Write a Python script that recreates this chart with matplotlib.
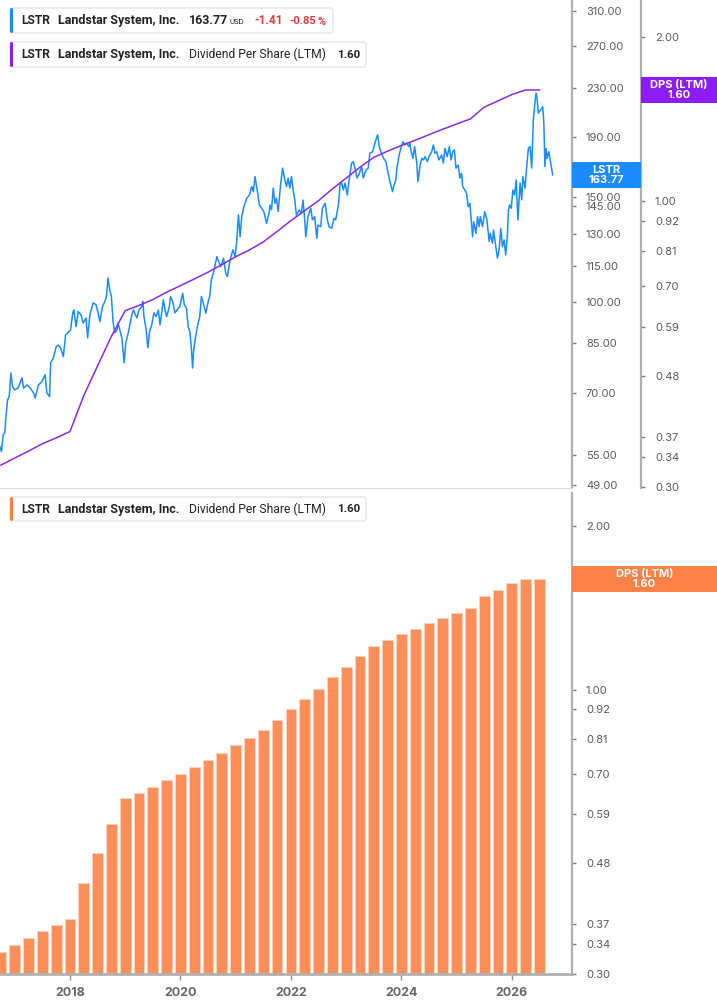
import matplotlib
matplotlib.use('Agg')
import matplotlib.pyplot as plt
import numpy as np
from matplotlib.patches import FancyBboxPatch, Rectangle
from matplotlib.transforms import IdentityTransform
from matplotlib.ticker import FixedLocator, FixedFormatter, NullLocator

# quarterly dividend per share (LTM)
dps_quarters = np.arange(2016.75, 2026.51, 0.25)
dps_ltm = [0.329, 0.339, 0.349, 0.360, 0.369, 0.379, 0.441, 0.500, 0.566, 0.631,
           0.645, 0.661, 0.682, 0.701, 0.721, 0.742, 0.766, 0.792, 0.815, 0.843,
           0.881, 0.922, 0.962, 1.003, 1.054, 1.103, 1.155, 1.204, 1.236, 1.266,
           1.294, 1.325, 1.356, 1.386, 1.416, 1.488, 1.528, 1.569, 1.60, 1.60]

# LSTR close price
price_years = [
    2016.73, 2016.76, 2016.79, 2016.82, 2016.84, 2016.87, 2016.90, 2016.93, 2016.96, 2017.00,
    2017.06, 2017.13, 2017.16, 2017.22, 2017.28, 2017.34, 2017.37, 2017.43, 2017.49, 2017.55,
    2017.58, 2017.63, 2017.65, 2017.70, 2017.75, 2017.79, 2017.83, 2017.88, 2017.92, 2017.98,
    2018.01, 2018.05, 2018.07, 2018.11, 2018.15, 2018.20, 2018.24, 2018.29, 2018.32, 2018.36,
    2018.42, 2018.47, 2018.51, 2018.54, 2018.59, 2018.63, 2018.66, 2018.69, 2018.72, 2018.75,
    2018.78, 2018.81, 2018.85, 2018.87, 2018.94, 2018.98, 2019.01, 2019.06, 2019.12, 2019.15,
    2019.21, 2019.25,
    2019.30, 2019.32, 2019.34, 2019.38, 2019.41, 2019.44, 2019.48, 2019.52, 2019.56, 2019.60,
    2019.63, 2019.66, 2019.69, 2019.72, 2019.75, 2019.80, 2019.82, 2019.86, 2019.90, 2019.94,
    2019.99, 2020.04, 2020.07, 2020.11, 2020.14, 2020.17, 2020.20, 2020.22, 2020.24, 2020.28,
    2020.32, 2020.35, 2020.38, 2020.43, 2020.46, 2020.50, 2020.53, 2020.56, 2020.61, 2020.66,
    2020.68, 2020.73, 2020.78, 2020.82, 2020.85, 2020.90, 2020.95, 2020.99, 2021.02, 2021.05,
    2021.08, 2021.11, 2021.15, 2021.20, 2021.25, 2021.29, 2021.32, 2021.35, 2021.39, 2021.43,
    2021.47, 2021.51, 2021.56, 2021.61,
    2021.62, 2021.65, 2021.68, 2021.71, 2021.74, 2021.77, 2021.81, 2021.85, 2021.89, 2021.92,
    2021.95, 2021.98, 2022.01, 2022.04, 2022.07, 2022.10, 2022.15, 2022.19, 2022.22, 2022.25,
    2022.27, 2022.31, 2022.36, 2022.39, 2022.43, 2022.47, 2022.49, 2022.54, 2022.57, 2022.62,
    2022.66, 2022.69, 2022.74, 2022.78, 2022.81, 2022.86, 2022.89, 2022.92, 2022.95, 2022.98,
    2023.02, 2023.06, 2023.10, 2023.13, 2023.16, 2023.20, 2023.24, 2023.28, 2023.31, 2023.36,
    2023.40, 2023.43, 2023.48, 2023.52, 2023.55, 2023.57, 2023.60, 2023.64, 2023.68, 2023.72,
    2023.76, 2023.80, 2023.84, 2023.86, 2023.90, 2023.92, 2023.96, 2024.00, 2024.03, 2024.06,
    2024.09, 2024.14,
    2024.15, 2024.18, 2024.21, 2024.24, 2024.28, 2024.30, 2024.34, 2024.37, 2024.40, 2024.43,
    2024.47, 2024.50, 2024.55, 2024.58, 2024.61, 2024.64, 2024.68, 2024.73, 2024.76, 2024.79,
    2024.83, 2024.87, 2024.90, 2024.93, 2024.96, 2024.99, 2025.03, 2025.06, 2025.09, 2025.11,
    2025.15, 2025.18, 2025.21, 2025.24, 2025.27, 2025.29, 2025.31, 2025.35, 2025.38, 2025.41,
    2025.43, 2025.47, 2025.51, 2025.55, 2025.59, 2025.61, 2025.65, 2025.67, 2025.71, 2025.74,
    2025.77, 2025.80, 2025.83, 2025.86, 2025.89, 2025.92, 2025.94, 2025.96, 2025.99, 2026.02,
    2026.05, 2026.08, 2026.11, 2026.15, 2026.18, 2026.20, 2026.24, 2026.27, 2026.30, 2026.33,
    2026.36, 2026.39, 2026.42, 2026.44, 2026.46, 2026.48, 2026.52, 2026.56, 2026.58, 2026.60,
    2026.62, 2026.64, 2026.67, 2026.70, 2026.74]
price_close = [
    56.9, 55.8, 59.6, 60.0, 63.8, 68.2, 69.1, 75.7, 71.8, 70.9,
    71.4, 74.3, 71.4, 72.3, 71.4, 70.1, 68.7, 72.3, 73.2, 75.2,
    70.1, 69.1, 78.8, 80.3, 83.9, 84.4, 83.5, 80.7, 87.8, 88.9,
    89.5, 95.7, 96.8, 90.7, 96.2, 94.9, 92.0, 93.8, 86.8, 94.9,
    99.5, 98.8, 95.7, 92.5, 98.1, 100.0, 102.0, 109.6, 104.7, 102.0,
    92.5, 88.5, 89.5, 92.0, 86.8, 78.8, 85.1, 88.9, 94.9, 96.8,
    93.8, 96.8,
    98.1, 100.0, 94.3, 89.5, 83.5, 88.9, 91.3, 95.7, 94.3, 96.8,
    91.3, 95.7, 100.7, 96.8, 94.3, 98.1, 102.0, 100.0, 95.7, 96.8,
    98.1, 103.3, 98.8, 97.5, 90.7, 88.9, 82.9, 77.2, 82.9, 87.8,
    92.0, 94.3, 102.0, 98.1, 95.6, 99.8, 102.0, 108.8, 113.1, 119.1,
    117.6, 114.6, 118.4, 111.7, 110.2, 117.6, 122.3, 119.1, 127.1, 140.1,
    128.7, 139.2, 144.7, 149.5, 151.4, 156.5, 153.4, 162.7, 154.4, 145.6,
    143.8, 141.9, 135.6, 141.9,
    145.6, 142.9, 155.5, 146.6, 149.5, 141.9, 156.5, 168.1, 160.6, 156.5,
    161.7, 155.5, 162.7, 154.4, 148.5, 140.1, 142.9, 141.0, 148.5, 137.4,
    128.7, 139.2, 143.8, 137.4, 139.2, 127.9, 134.7, 133.9, 143.8, 146.6,
    137.4, 133.9, 133.0, 138.3, 137.4, 145.6, 157.5, 158.6, 154.4, 158.6,
    151.4, 161.7, 171.4, 172.4, 168.1, 161.7, 164.8, 169.1, 161.7, 166.9,
    168.1, 178.1, 179.2, 185.2, 188.8, 191.3, 182.8, 178.1, 174.6, 172.4,
    164.8, 158.6, 153.4, 156.5, 160.6, 168.1, 176.9, 182.8, 186.4, 184.0,
    185.2, 182.8,
    185.2, 179.2, 174.6, 182.8, 171.4, 159.5, 170.1, 174.6, 173.5, 175.7,
    172.4, 175.7, 179.2, 184.0, 178.1, 179.2, 173.5, 176.9, 171.4, 181.5,
    175.7, 182.8, 173.5, 179.2, 180.4, 168.1, 170.1, 161.7, 164.8, 156.5,
    154.4, 152.4, 144.7, 146.6, 135.6, 128.7, 136.5, 130.4, 139.2, 133.9,
    139.2, 133.9, 141.9, 137.4, 126.3, 130.4, 125.5, 132.1, 123.8, 118.4,
    122.3, 132.9, 123.8, 127.1, 119.9, 129.6, 142.9, 145.6, 143.8, 154.4,
    151.4, 160.6, 137.4, 158.6, 148.5, 162.7, 155.5, 169.1, 181.5, 182.8,
    168.1, 202.8, 217.8, 225.1, 219.2, 208.2, 210.9, 213.5, 200.2, 169.1,
    181.5, 174.6, 179.2, 172.4, 163.77]

price_ticks = [49, 55, 70, 85, 100, 115, 130, 145, 150, 190, 230, 270, 310]
dps_ticks = [0.30, 0.34, 0.37, 0.48, 0.59, 0.70, 0.81, 0.92, 1.00, 2.00]
year_ticks = [2018, 2020, 2022, 2024, 2026]

last_price = 163.77
last_dps = 1.60

blue = '#1a8cff'
purple = '#8a2be2'
purple_box = '#8c1cf5'
orange = '#fd8f5b'
orange_box = '#fb8246'
red = '#e0393e'
label_grey = '#595959'
axis_grey = '#b0b0b0'

plt.rcParams['font.family'] = ['Inter', 'DejaVu Sans']

W, H = 717, 1005
fig = plt.figure(figsize=(W / 100, H / 100), dpi=100)
renderer = fig.canvas.get_renderer()


def fx(x):
    return x / W


def fy(y):
    return 1 - y / H


ax_top = fig.add_axes([0, fy(488), fx(572), fy(0) - fy(488)])
ax_dps = ax_top.twinx()
ax_bot = fig.add_axes([0, fy(974), fx(572), fy(493) - fy(974)], sharex=ax_top)

# top panel: price + dps line
ax_top.plot(price_years, price_close, color=blue, lw=1.1, zorder=3)
ax_dps.plot(dps_quarters, dps_ltm, color=purple, lw=1.1, zorder=2)

ax_top.set_yscale('log')
ax_dps.set_yscale('log')
ax_top.set_ylim(48.4, 323.4)
ax_dps.set_ylim(0.2987, 2.338)
ax_top.set_xlim(2016.733, 2027.09)

for ax, ticks in ((ax_top, price_ticks), (ax_dps, dps_ticks), (ax_bot, dps_ticks)):
    ax.yaxis.set_major_locator(FixedLocator(ticks))
    ax.yaxis.set_major_formatter(FixedFormatter([f'{t:.2f}' for t in ticks]))
    ax.yaxis.set_minor_locator(NullLocator())
    ax.yaxis.tick_right()
    ax.tick_params(axis='y', which='major', length=3, width=1, color='#808080',
                   labelcolor=label_grey, labelsize=8, pad=7)

ax_top.patch.set_alpha(0)
for s in ('left', 'top'):
    ax_top.spines[s].set_visible(False)
ax_top.spines['bottom'].set_color('#dddddd')
ax_top.spines['right'].set_color(axis_grey)
ax_top.spines['right'].set_linewidth(1.6)
ax_top.tick_params(axis='x', bottom=False, labelbottom=False)

for s in ('left', 'top', 'bottom'):
    ax_dps.spines[s].set_visible(False)
ax_dps.spines['right'].set_position(('axes', 641 / 572))
ax_dps.spines['right'].set_color(axis_grey)
ax_dps.spines['right'].set_linewidth(1.6)

# bottom panel: dps bars
ax_bot.bar(dps_quarters, dps_ltm, width=0.195, color=orange, edgecolor='#ffd2bd', linewidth=0.7)
ax_bot.set_yscale('log')
ax_bot.yaxis.set_major_locator(FixedLocator(dps_ticks))
ax_bot.yaxis.set_major_formatter(FixedFormatter([f'{t:.2f}' for t in dps_ticks]))
ax_bot.yaxis.set_minor_locator(NullLocator())
ax_bot.set_ylim(0.30, 2.30)
for s in ('left', 'top'):
    ax_bot.spines[s].set_visible(False)
ax_bot.spines['right'].set_color(axis_grey)
ax_bot.spines['right'].set_linewidth(1.6)
ax_bot.spines['bottom'].set_color(axis_grey)
ax_bot.spines['bottom'].set_linewidth(2)
ax_bot.set_xticks(year_ticks)
ax_bot.set_xticklabels([str(y) for y in year_ticks])
ax_bot.tick_params(axis='x', length=4, width=1, color='#909090', labelcolor='#666666',
                   labelsize=9, pad=5)
for lab in ax_bot.get_xticklabels():
    lab.set_fontweight('bold')


# value boxes on the axes
def value_box(ax, value, x0, x1, color, text):
    ydisp = ax.transData.transform((2020, value))[1]
    yc = H - ydisp
    fig.add_artist(Rectangle((x0, H - yc - 13), x1 - x0, 26, transform=IdentityTransform(),
                             facecolor=color, edgecolor='none', zorder=5))
    fig.text(fx((x0 + x1) / 2), fy(yc), text, ha='center', va='center', color='white',
             fontsize=8, fontweight='bold', linespacing=1.0, zorder=6)


value_box(ax_top, last_price, 572, 641, blue, f'LSTR\n{last_price:.2f}')
value_box(ax_dps, last_dps, 641, 717, purple_box, f'DPS (LTM)\n{last_dps:.2f}')
value_box(ax_bot, last_dps, 572, 717, orange_box, f'DPS (LTM)\n{last_dps:.2f}')


# legend boxes
def legend_box(x0, x1, y0, y1, color):
    fig.add_artist(FancyBboxPatch((x0, H - y1), x1 - x0, y1 - y0,
                                  boxstyle='round,pad=0,rounding_size=3',
                                  transform=IdentityTransform(), facecolor='white',
                                  edgecolor='#e6e6e6', linewidth=1, zorder=7))
    fig.add_artist(FancyBboxPatch((x0, H - y1), 3, y1 - y0,
                                  boxstyle='round,pad=0,rounding_size=1.5',
                                  transform=IdentityTransform(), facecolor=color,
                                  edgecolor='none', zorder=8))


def txt(x0, x1, y, s, size=9, **kw):
    # size the font so the text spans x0..x1 like in the reference
    kw.setdefault('color', '#222222')
    t = fig.text(fx(x0), fy(y), s, ha='left', va='center', zorder=9, fontsize=size,
                 family=['Roboto', 'DejaVu Sans'], **kw)
    w = t.get_window_extent(renderer).width
    t.set_fontsize(size * (x1 - x0) / w)


legend_box(10, 333, 8, 33, blue)
txt(21, 50, 20.5, 'LSTR', fontweight='bold')
txt(58, 180, 20.5, 'Landstar System, Inc.', fontweight='bold')
txt(189, 228, 20.5, f'{last_price:.2f}', fontweight='bold')
txt(230, 245, 22, 'USD', size=6)
txt(254, 282, 20.5, '-1.41', color=red, fontweight='bold')
txt(289, 316, 20.5, '-0.85', color=red, fontweight='bold')
txt(317, 325, 22, '%', color=red, size=6, fontweight='bold')

for yc, y0, y1, col in ((54.5, 42, 67, purple_box), (509, 497, 521, orange_box)):
    legend_box(10, 366, y0, y1, col)
    txt(21, 50, yc, 'LSTR', fontweight='bold')
    txt(58, 180, yc, 'Landstar System, Inc.', fontweight='bold')
    txt(189, 327, yc, 'Dividend Per Share (LTM)')
    txt(337, 360, yc, f'{last_dps:.2f}', fontweight='bold')

fig.savefig('out.png', dpi=100)
